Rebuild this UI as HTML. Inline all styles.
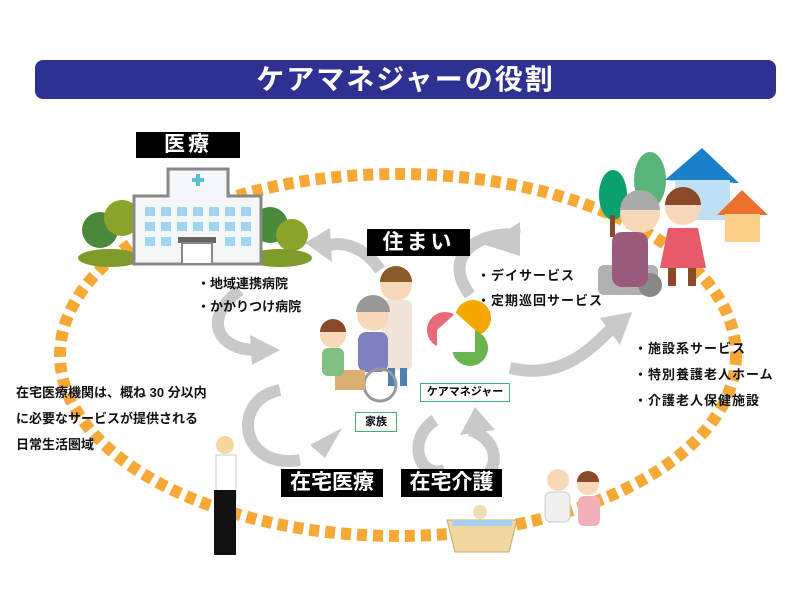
<!DOCTYPE html>
<html><head><meta charset="utf-8"><style>
body{margin:0;width:800px;height:600px;background:#fff;overflow:hidden;position:relative;font-family:"Liberation Sans","Noto Sans CJK JP",sans-serif;}
.t{position:absolute;font-weight:bold;color:#111;white-space:nowrap;}
.lab{position:absolute;background:#000;color:#fff;font-weight:bold;text-align:center;}
.box{position:absolute;border:1.5px solid #3cb371;background:#fff;font-size:11px;font-weight:bold;text-align:center;}
</style></head><body>
<svg width="800" height="600" style="position:absolute;left:0;top:0">
<ellipse cx="398" cy="355" rx="338" ry="181" fill="none" stroke="#f7a937" stroke-width="12" stroke-dasharray="10 6"/>
<g fill="none" stroke="#c9c9c9" stroke-width="12">
<path d="M380 270 C360 240 330 240 320 250"/>
<path d="M240 290 C200 320 220 350 255 350"/>
<path d="M470 295 C440 255 480 230 520 235"/>
<path d="M510 368 C560 380 590 350 610 330"/>
<path d="M280 390 C230 400 240 470 300 460"/>
<path d="M435 420 C405 440 420 480 445 470"/>
<path d="M470 430 C500 440 500 470 480 480"/>
</g>
<g fill="#c9c9c9">
<polygon points="305,243 330,228 332,262"/>
<polygon points="250,335 280,350 252,365"/>
<polygon points="485,245 520,222 520,256"/>
<polygon points="632,312 600,318 620,345"/>
<polygon points="342,428 325,458 310,445"/>
<polygon points="475,407 460,435 495,430"/>
</g>
<circle cx="100" cy="230" r="18" fill="#4a8a3a"/><circle cx="122" cy="218" r="18" fill="#8aa32a"/>
<circle cx="270" cy="225" r="18" fill="#4a8a3a"/><circle cx="292" cy="235" r="16" fill="#8aa32a"/>
<ellipse cx="110" cy="258" rx="32" ry="9" fill="#7d9a2a"/><ellipse cx="280" cy="258" rx="32" ry="9" fill="#7d9a2a"/>
<path d="M134 264V196H168V169H228V196H261V264Z" fill="#f4f6f8" stroke="#888" stroke-width="3"/>
<rect x="192" y="178" width="12" height="4" fill="#5bc0d0"/><rect x="196" y="174" width="4" height="12" fill="#5bc0d0"/>
<g fill="#9fd5f0">
<rect x="145" y="207" width="10" height="9"/><rect x="161" y="207" width="10" height="9"/><rect x="177" y="207" width="10" height="9"/><rect x="193" y="207" width="10" height="9"/><rect x="209" y="207" width="10" height="9"/><rect x="225" y="207" width="10" height="9"/><rect x="241" y="207" width="10" height="9"/>
<rect x="145" y="222" width="10" height="9"/><rect x="161" y="222" width="10" height="9"/><rect x="177" y="222" width="10" height="9"/><rect x="193" y="222" width="10" height="9"/><rect x="209" y="222" width="10" height="9"/><rect x="225" y="222" width="10" height="9"/><rect x="241" y="222" width="10" height="9"/>
<rect x="145" y="237" width="10" height="9"/><rect x="161" y="237" width="10" height="9"/><rect x="225" y="237" width="10" height="9"/><rect x="241" y="237" width="10" height="9"/>
</g>
<rect x="178" y="237" width="38" height="6" fill="#666"/><rect x="182" y="243" width="30" height="21" fill="#fff" stroke="#888" stroke-width="2"/>
<ellipse cx="613" cy="195" rx="14" ry="25" fill="#0aa070"/><rect x="610" y="215" width="5" height="22" fill="#8a4a2a"/>
<ellipse cx="650" cy="180" rx="16" ry="28" fill="#58b478"/>
<polygon points="665,180 702,148 739,183" fill="#1a7ec8"/><rect x="675" y="180" width="55" height="40" fill="#bde0f5"/>
<polygon points="717,215 742,190 768,215" fill="#ee7030"/><rect x="725" y="214" width="35" height="28" fill="#fdd08a"/>
<rect x="598" y="265" width="60" height="30" rx="6" fill="#b0b0b0"/><circle cx="650" cy="285" r="12" fill="#888"/>
<circle cx="640" cy="213" r="20" fill="#f8d8b8"/><path d="M620 210a20 20 0 0 1 40 0" fill="#aaa"/>
<rect x="612" y="232" width="36" height="55" rx="10" fill="#9a5a7a"/>
<circle cx="683" cy="207" r="18" fill="#f8d8b8"/><path d="M665 205a18 18 0 0 1 36 0" fill="#8a4a2a"/>
<path d="M668 228h30l8 40h-46z" fill="#e85a6a"/><rect x="668" y="268" width="8" height="18" fill="#8a4a2a"/><rect x="688" y="268" width="8" height="18" fill="#8a4a2a"/>
<circle cx="396" cy="285" r="16" fill="#f8d8b8"/><path d="M380 282a16 16 0 0 1 32 0" fill="#8a5a2a"/>
<rect x="382" y="300" width="30" height="70" rx="6" fill="#f0e4d8"/><rect x="388" y="368" width="7" height="18" fill="#5080b0"/><rect x="400" y="368" width="7" height="18" fill="#5080b0"/>
<circle cx="373" cy="315" r="16" fill="#f8d8b8"/><path d="M356 312a17 17 0 0 1 34 0" fill="#999"/>
<rect x="358" y="332" width="30" height="40" rx="8" fill="#8080c0"/>
<circle cx="380" cy="385" r="16" fill="none" stroke="#999" stroke-width="3"/>
<rect x="335" y="370" width="30" height="20" fill="#d8b070"/>
<circle cx="333" cy="335" r="13" fill="#f8d8b8"/><path d="M320 332a13 13 0 0 1 26 0" fill="#8a4a2a"/>
<rect x="322" y="348" width="22" height="28" rx="6" fill="#80c080"/>
<circle cx="445" cy="330" r="18" fill="#e86a78"/><circle cx="473" cy="318" r="18" fill="#f5a800"/><circle cx="470" cy="348" r="18" fill="#6ab450"/>
<polygon points="437,330 456,313 475,330 475,352 437,352" fill="#fff"/>
<circle cx="225" cy="445" r="9" fill="#f5d8a0"/><rect x="216" y="455" width="20" height="45" fill="#fff" stroke="#ccc"/>
<rect x="214" y="490" width="12" height="65" fill="#111"/><rect x="226" y="490" width="10" height="65" fill="#111"/>
<path d="M447 520h70l-8 32h-54z" fill="#f0d8a0" stroke="#c8a870"/><rect x="452" y="520" width="60" height="6" fill="#aad0f0"/>
<circle cx="480" cy="512" r="7" fill="#f8d8b8"/>
<circle cx="558" cy="480" r="11" fill="#f8d8b8"/><rect x="545" y="492" width="25" height="30" rx="6" fill="#f0f0f0" stroke="#ccc"/>
<circle cx="588" cy="484" r="11" fill="#f8d8b8"/><path d="M577 482a11 11 0 0 1 22 0" fill="#8a4a2a"/><rect x="578" y="496" width="22" height="30" rx="6" fill="#f4b0b8"/>
</svg>
<div style="position:absolute;left:35px;top:60px;width:741px;height:39px;background:#2e3192;border-radius:8px;color:#fff;font-size:28px;font-weight:bold;text-align:center;line-height:39px;letter-spacing:2px">ケアマネジャーの役割</div>
<div class="lab" style="left:136px;top:132px;width:104px;height:26px;font-size:21px;line-height:26px;letter-spacing:3px">医療</div>
<div class="lab" style="left:367px;top:229px;width:103px;height:27px;font-size:21px;line-height:27px;letter-spacing:3px">住まい</div>
<div class="lab" style="left:281px;top:469px;width:102px;height:28px;font-size:21px;line-height:28px">在宅医療</div>
<div class="lab" style="left:401px;top:469px;width:101px;height:28px;font-size:21px;line-height:28px">在宅介護</div>
<div class="t" style="left:197px;top:272px;font-size:13px;line-height:23px">・地域連携病院<br>・かかりつけ病院</div>
<div class="t" style="left:477px;top:263px;font-size:13px;line-height:25px;letter-spacing:1px">・デイサービス<br>・定期巡回サービス</div>
<div class="t" style="left:634px;top:336px;font-size:13px;line-height:26px;letter-spacing:1px">・施設系サービス<br>・特別養護老人ホーム<br>・介護老人保健施設</div>
<div class="t" style="left:16px;top:380px;font-size:13px;line-height:26px">在宅医療機関は、概ね 30 分以内<br>に必要なサービスが提供される<br>日常生活圏域</div>
<div class="box" style="left:420px;top:383px;width:88px;height:17px;line-height:17px">ケアマネジャー</div>
<div class="box" style="left:355px;top:412px;width:40px;height:18px;line-height:18px">家族</div>
</body></html>
